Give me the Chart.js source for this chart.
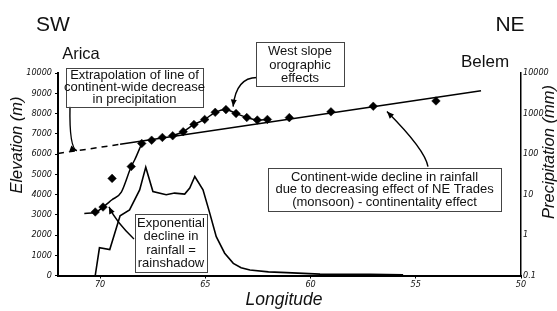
<!DOCTYPE html>
<html>
<head>
<meta charset="utf-8">
<script src="https://cdn.jsdelivr.net/npm/chart.js@4.4.1/dist/chart.umd.min.js"></script>
<style>
  html, body { margin: 0; padding: 0; background: #fff; overflow: hidden; }
  #wrap { position: relative; width: 557px; height: 311px; }
</style>
</head>
<body>
<div id="wrap"><canvas id="chart" width="557" height="311"></canvas></div>
<script>
// axis ticks
const lonTicks = [70, 65, 60, 55, 50];
const elevTicks = [0, 1000, 2000, 3000, 4000, 5000, 6000, 7000, 8000, 9000, 10000];
const precipTicks = [0.1, 1, 10, 100, 1000, 10000];

// topographic profile (longitude W, elevation m)
const profileLon = [70.23, 70.03, 69.54, 69.05, 68.60, 68.12, 67.83, 67.49, 66.86, 66.46, 65.98, 65.74, 65.50, 65.11, 64.79, 64.48, 64.08, 63.67, 63.30, 62.88, 62.00, 61.14, 59.55, 57.18, 55.60];
const profileElev = [0, 1370, 1280, 2950, 3240, 4230, 5350, 4150, 3990, 4070, 4020, 4320, 4890, 4230, 3080, 1920, 1100, 600, 380, 270, 180, 140, 70, 60, 40];

// station precipitation (mm)
const stationLon = [70.23, 69.86, 69.43, 68.52, 68.02, 67.55, 67.04, 66.55, 66.05, 65.54, 65.03, 64.53, 64.02, 63.54, 63.03, 62.53, 62.05, 61.01, 59.03, 57.02, 54.04];
const stationPrecip = [3.7, 4.9, 25, 49, 182, 219, 256, 282, 355, 537, 713, 1070, 1250, 1000, 795, 690, 713, 790, 1100, 1510, 2040];

// continent-wide decrease and its extrapolation
const trendLon = [69.05, 51.9];
const trendPrecip = [173, 3660];
const extrapLon = [72, 69.05];
const extrapPrecip = [103, 173];

// rainshadow (exponential) curve
const shadowLon = [70.75, 70.23, 69.86, 69.45, 68.99, 68.52, 68.36, 68.02];
const shadowPrecip = [3.4, 3.6, 4.9, 7.3, 11.5, 49, 71, 182];

// west slope orographic bump
const oroLon = [66.55, 66.05, 65.54, 65.03, 64.53, 64.02, 63.54, 63.03, 62.53, 62.05];
const oroPrecip = [282, 355, 537, 713, 1070, 1250, 1000, 795, 690, 713];

const pts = (xs, ys) => xs.map((x, i) => ({ x, y: ys[i] }));

// annotation boxes, placed in (longitude, elevation) space
const boxes = [
  { lines: ['Extrapolation of line of', 'continent-wide decrease', 'in precipitation'], lon: [71.62, 65.11], elev: [10270, 8340], lh: 12 },
  { lines: ['West slope', 'orographic', 'effects'], lon: [62.59, 58.41], elev: [11509, 9331], lh: 13.5 },
  { lines: ['Continent-wide decline in rainfall', 'due to decreasing effect of NE Trades', '(monsoon) - continentality effect'], lon: [62.02, 50.95], elev: [5321, 3193], lh: 12.2 },
  { lines: ['Exponential', 'decline in', 'rainfall =', 'rainshadow'], lon: [68.34, 64.92], elev: [3044, 173], lh: 13.6 },
];

// curved arrows: start, control, tip as (longitude, elevation)
const arrows = [
  [[71.43, 8340], [71.47, 6300], [71.10, 6160]],
  [[62.54, 9776], [63.54, 9776], [63.68, 8341]],
  [[54.42, 5371], [54.56, 6210], [56.37, 8093]],
  [[68.39, 1807], [69.24, 2648], [69.58, 3391]],
];

const FONT = '"Liberation Sans", Arial, sans-serif';
const TICKFONT = { family: '"Liberation Sans Narrow", "DejaVu Sans Condensed", Arial, sans-serif', size: 9, style: 'italic' };

const notes = {
  id: 'notes',
  afterDatasetsDraw(chart) {
    const { ctx } = chart;
    const sx = chart.scales.x, sy = chart.scales.y;
    const P = (lon, elev) => [sx.getPixelForValue(lon), sy.getPixelForValue(elev)];
    ctx.save();
    ctx.strokeStyle = '#000';
    ctx.fillStyle = '#000';
    ctx.lineWidth = 1.4;
    for (const [a, c, b] of arrows) {
      const p0 = P(...a), p1 = P(...c), p2 = P(...b);
      ctx.beginPath();
      ctx.moveTo(p0[0], p0[1]);
      ctx.quadraticCurveTo(p1[0], p1[1], p2[0], p2[1]);
      ctx.stroke();
      const ang = Math.atan2(p2[1] - p1[1], p2[0] - p1[0]);
      const L = 7, W = 3;
      ctx.beginPath();
      ctx.moveTo(p2[0], p2[1]);
      ctx.lineTo(p2[0] - L * Math.cos(ang) + W * Math.sin(ang), p2[1] - L * Math.sin(ang) - W * Math.cos(ang));
      ctx.lineTo(p2[0] - L * Math.cos(ang) - W * Math.sin(ang), p2[1] - L * Math.sin(ang) + W * Math.cos(ang));
      ctx.closePath();
      ctx.fill();
    }
    ctx.font = '13px ' + FONT;
    ctx.textAlign = 'center';
    ctx.textBaseline = 'middle';
    for (const b of boxes) {
      const [x0, y0] = P(b.lon[0], b.elev[0]);
      const [x1, y1] = P(b.lon[1], b.elev[1]);
      ctx.fillStyle = '#fff';
      ctx.fillRect(x0, y0, x1 - x0, y1 - y0);
      ctx.strokeStyle = '#444';
      ctx.lineWidth = 1;
      ctx.strokeRect(Math.round(x0) + 0.5, Math.round(y0) + 0.5, Math.round(x1 - x0), Math.round(y1 - y0));
      ctx.fillStyle = '#111';
      const cx = (x0 + x1) / 2, cy = (y0 + y1) / 2;
      const n = b.lines.length;
      b.lines.forEach((t, i) => ctx.fillText(t, cx, cy + (i - (n - 1) / 2) * b.lh + 0.5));
    }
    // headings
    ctx.fillStyle = '#111';
    ctx.textBaseline = 'alphabetic';
    ctx.font = '21px ' + FONT;
    ctx.fillText('SW', 53, 30.5);
    ctx.fillText('NE', 510, 30.5);
    ctx.font = '16.5px ' + FONT;
    ctx.fillText('Arica', 81, 59);
    ctx.font = '17px ' + FONT;
    ctx.fillText('Belem', 485, 67);
    ctx.font = 'italic 17.5px ' + FONT;
    ctx.fillText('Longitude', 284, 305);
    ctx.font = 'italic 16.5px ' + FONT;
    ctx.save();
    ctx.translate(22, 145);
    ctx.rotate(-Math.PI / 2);
    ctx.fillText('Elevation (m)', 0, 0);
    ctx.restore();
    ctx.save();
    ctx.translate(554, 152);
    ctx.rotate(-Math.PI / 2);
    ctx.fillText('Precipitation (mm)', 0, 0);
    ctx.restore();
    ctx.restore();
  }
};

const black = '#000';
const plain = v => String(v);
new Chart(document.getElementById('chart'), {
  type: 'scatter',
  data: {
    datasets: [
      { label: 'Elevation', data: pts(profileLon, profileElev), yAxisID: 'y', showLine: true, borderColor: black, borderWidth: 1.6, pointRadius: 0, tension: 0 },
      { label: 'Extrapolation', data: pts(extrapLon, extrapPrecip), yAxisID: 'y2', showLine: true, borderColor: black, borderWidth: 1.5, borderDash: [6, 5], pointRadius: 0 },
      { label: 'Continent trend', data: pts(trendLon, trendPrecip), yAxisID: 'y2', showLine: true, borderColor: black, borderWidth: 1.5, pointRadius: 0 },
      { label: 'Rainshadow', data: pts(shadowLon, shadowPrecip), yAxisID: 'y2', showLine: true, borderColor: black, borderWidth: 1.5, pointRadius: 0, cubicInterpolationMode: 'monotone' },
      { label: 'Orographic', data: pts(oroLon, oroPrecip), yAxisID: 'y2', showLine: true, borderColor: black, borderWidth: 1.5, pointRadius: 0, tension: 0.3 },
      { label: 'Precipitation', data: pts(stationLon, stationPrecip), yAxisID: 'y2', showLine: false, pointStyle: 'rectRot', pointRadius: 4.3, backgroundColor: black, borderColor: black, borderWidth: 0.5 },
    ],
  },
  options: {
    responsive: false, animation: false, devicePixelRatio: 1,
    layout: { padding: { top: 73, left: 0, right: 0, bottom: 0 } },
    plugins: { legend: { display: false }, tooltip: { enabled: false } },
    scales: {
      x: {
        type: 'linear', min: 50, max: 72, reverse: true,
        afterBuildTicks: s => { s.ticks = lonTicks.map(v => ({ value: v })); },
        afterFit: s => { s.height = 35.5; },
        ticks: { font: TICKFONT, color: '#111', padding: 1, maxRotation: 0, callback: plain },
        grid: { drawOnChartArea: false, tickLength: 3, color: black },
        border: { color: black, width: 2 },
      },
      y: {
        position: 'left', min: 0, max: 10000,
        afterBuildTicks: s => { s.ticks = elevTicks.map(v => ({ value: v })); },
        afterFit: s => { s.width = 58; },
        ticks: { font: TICKFONT, color: '#111', padding: 3, callback: plain },
        grid: { drawOnChartArea: false, tickLength: 3, color: black },
        border: { color: black, width: 2 },
      },
      y2: {
        type: 'logarithmic', position: 'right', min: 0.1, max: 10000,
        afterBuildTicks: s => { s.ticks = precipTicks.map(v => ({ value: v })); },
        afterFit: s => { s.width = 36; },
        ticks: { font: TICKFONT, color: '#111', padding: 2, callback: plain },
        grid: { drawOnChartArea: false, drawTicks: false, color: black },
        border: { color: black, width: 1.5 },
      },
    },
  },
  plugins: [notes],
});
</script>
</body>
</html>
